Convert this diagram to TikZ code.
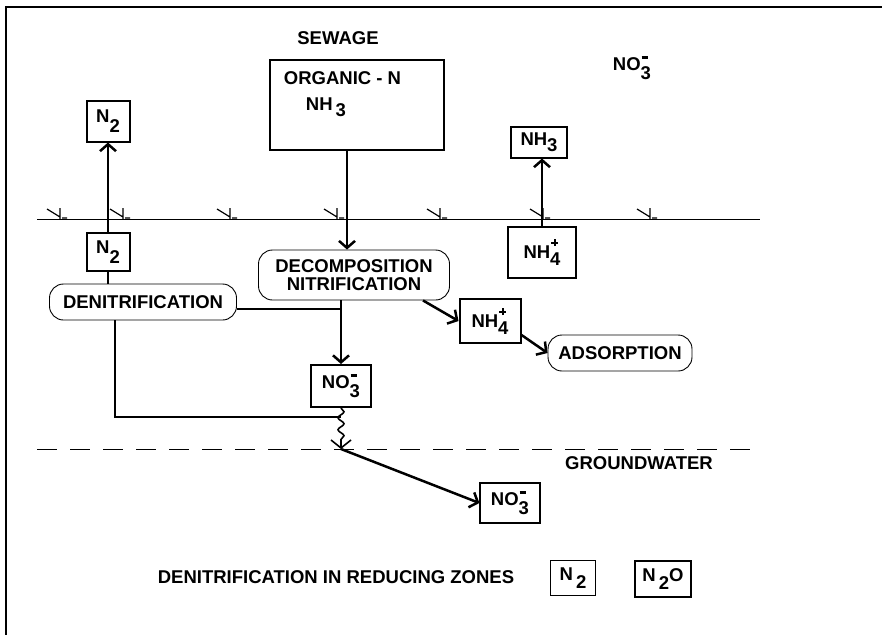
\documentclass[tikz,border=0pt]{standalone}
\usepackage{fontspec}
\setmainfont{Liberation Sans}
\usetikzlibrary{arrows.meta,decorations.pathmorphing}
\newcommand{\lo}[2][-0.6ex]{\raisebox{#1}{#2}}
\newcommand{\ionm}[1]{\rlap{\hspace{1pt}\rule[11.5pt]{6pt}{2.5pt}}\raisebox{-9pt}{#1}}
\newcommand{\ionp}[1]{\rlap{\hspace{1pt}\rule[14.5pt]{7pt}{2pt}\hspace{-4.5pt}\rule[12pt]{2pt}{7pt}}\raisebox{-7pt}{#1}}

\begin{document}
\begin{tikzpicture}[x=1pt, y=-1pt,
    every node/.style={font=\fontsize{18.5}{21}\selectfont\bfseries},
    box/.style={draw, line width=2pt, inner sep=0pt},
    thinbox/.style={draw, line width=1.2pt, inner sep=0pt},
    proc/.style={draw, line width=0.9pt, rounded corners=14pt, inner sep=0pt, align=center},
    flow/.style={line width=2.5pt, -{Straight Barb[length=7pt,width=16pt]}},
    link/.style={line width=2pt}]
\useasboundingbox (0,0) rectangle (882,635);
% Draw frame
\draw[line width=2pt] (882,7) -- (6,7) -- (6,635);
% Draw soil surface and water table
\draw[line width=1pt] (37,219) -- (760,219);
\foreach \x in {60,123,230,337,440,543,650}
    \draw[line width=1.2pt] (\x-13,209) -- (\x,217) (\x,208) -- (\x,219) (\x+2,218) -- (\x+7,218);
\draw[line width=1pt, dash pattern=on 20pt off 13pt] (37,449) -- (760,449);
% Draw boxes and labels
\node (sewage) at (338,38) {SEWAGE};
\node (organic) [thinbox, minimum width=174, minimum height=90] at (357,105) {};
\node [anchor=north west, align=left] at ([shift={(11,9)}]organic.north west) {ORGANIC - N\\[5pt]\hspace{22pt}NH\,\lo{3}};
\node (no3top) at (632,68) {NO\ionm{3}};
\node (n2up) [box, minimum width=43, minimum height=41] at (108,121) {N\lo[-10pt]{2}};
\node (n2low) [box, minimum width=43, minimum height=38] at (108,252) {N\lo[-10pt]{2}};
\node (denit) [proc, minimum width=187, minimum height=36] at (143,302) {DENITRIFICATION};
\node (decomp) [proc, minimum width=191, minimum height=50] at (354,275) {DECOMPOSITION\\[-3pt]NITRIFICATION};
\node (no3mid) [box, minimum width=60, minimum height=42] at (341,386) {NO\ionm{3}};
\node (nh4mid) [box, minimum width=61, minimum height=44] at (490,321) {NH\ionp{4}};
\node (adsorb) [proc, minimum width=144, minimum height=36] at (620,353) {ADSORPTION};
\node (nh4up) [box, minimum width=68, minimum height=51] at (542,252) {NH\ionp{4}};
\node (nh3) [box, minimum width=56, minimum height=31] at (539,142) {NH\lo{3}};
\node (gw) at (639,463) {GROUNDWATER};
\node (no3gw) [thinbox, minimum width=60, minimum height=40] at (510,503) {NO\ionm{3}};
\node (reduce) at (336,577) {DENITRIFICATION IN REDUCING ZONES};
\node (n2b) [thinbox, minimum width=45, minimum height=35] at (573,578) {N\,\lo[-8pt]{2}};
\node (n2o) [thinbox, minimum width=56, minimum height=36] at (663,579) {N\,\lo[-8pt]{2}O};
% Draw flows
\coordinate (seep) at (no3mid.south |- 0,449);
\draw[flow] (n2low) -- (n2up);
\draw[link] (n2low) -- (n2low |- denit.north);
\draw[flow] ([xshift=-10]organic.south) -- ([xshift=-10]organic.south |- decomp.north);
\draw[flow] (decomp.south -| no3mid) -- (no3mid);
\draw[link] ([yshift=-7]denit.east) -- ([yshift=-7]denit.east -| no3mid);
\draw[link] ([xshift=-28]denit.south) |- (no3mid.south |- 0,417);
\draw[line width=1.6pt, decorate, decoration={snake, amplitude=3pt, segment length=12pt, post length=8pt},
    -{Straight Barb[length=8pt,width=20pt]}] (no3mid.south) -- (seep);
\draw[flow] (seep) -- (no3gw.west);
\draw[flow] ([xshift=69]decomp.south) -- (nh4mid.west);
\draw[flow] ([yshift=-14]nh4mid.east) -- (adsorb.west);
\draw[flow] (nh4up) -- (nh4up.north |- nh3.south);
\end{tikzpicture}
\end{document}
